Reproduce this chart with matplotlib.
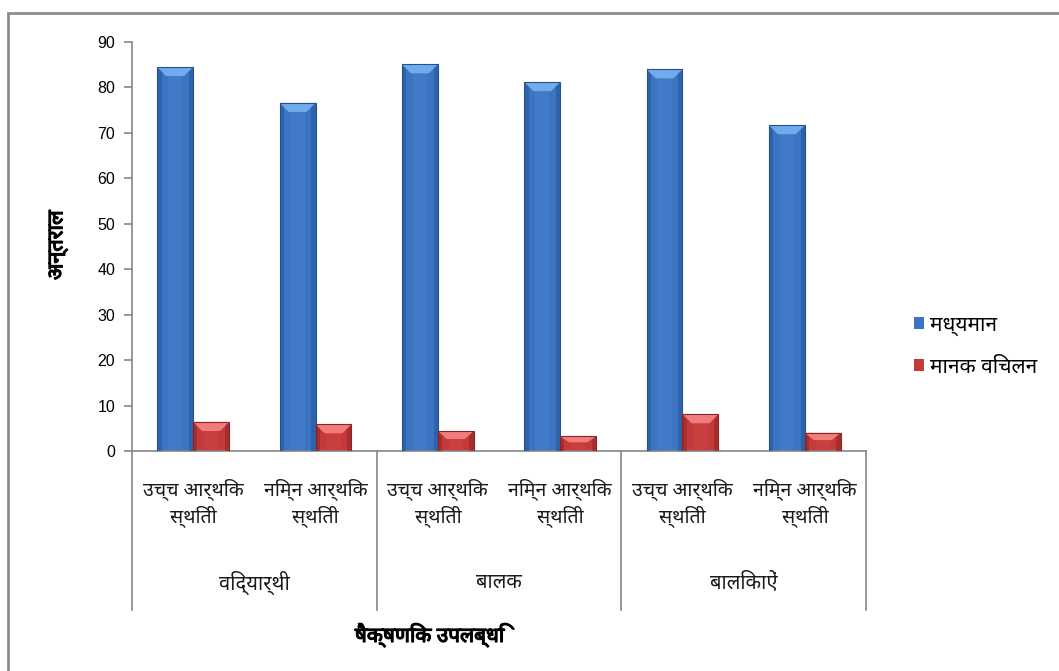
import matplotlib
matplotlib.use('Agg')
import matplotlib.pyplot as plt
import numpy as np
from matplotlib import font_manager as fm
from matplotlib.ft2font import FT2Font
from matplotlib.patches import Rectangle, Polygon
import matplotlib.transforms as mtransforms
import matplotlib.patheffects as pe

# ---------------- data ----------------
categories = ["उच्च आर्थिक\nस्थिती", "निम्न आर्थिक\nस्थिती",
              "उच्च आर्थिक\nस्थिती", "निम्न आर्थिक\nस्थिती",
              "उच्च आर्थिक\nस्थिती", "निम्न आर्थिक\nस्थिती"]
groups = ["विद्यार्थी", "बालक", "बालिकाऐं"]
mean_values = [84.5, 76.6, 85.1, 81.2, 84.0, 71.7]
sd_values = [6.4, 5.9, 4.4, 3.2, 8.1, 4.0]
series_names = ["मध्यमान", "मानक विचलन"]
y_ticks = [0, 10, 20, 30, 40, 50, 60, 70, 80, 90]
y_label = "अन्तराल"
x_label = "षैक्षणिक उपलब्धि"

# ---------------- fonts ----------------
deva_fonts = []
for f in fm.fontManager.ttflist:
    try:
        cmap = FT2Font(f.fname).get_charmap()
        if 0x0915 in cmap and 0x093F in cmap:
            if f.name not in deva_fonts:
                deva_fonts.append(f.name)
    except Exception:
        pass
preferred = ['Noto Sans Devanagari', 'Lohit Devanagari', 'Mangal', 'Hind', 'Mukta',
             'FreeSans', 'Gargi', 'Kalimati']
chosen = [p for p in preferred if p in deva_fonts] + deva_fonts
family = chosen[:1] + ['Liberation Sans', 'DejaVu Sans']
plt.rcParams['font.family'] = family

fig = plt.figure(figsize=(10.59, 6.71), dpi=100)
W, H = 1059, 671
ax = fig.add_axes([132 / W, 1 - 451 / H, (866 - 132) / W, (451 - 42) / H])

x = np.arange(len(categories))
bw = 0.294
blue = '#3B74C2'
red = '#C43A3A'
bars1 = ax.bar(x - bw / 2, mean_values, bw, color=blue, label=series_names[0], zorder=2)
bars2 = ax.bar(x + bw / 2, sd_values, bw, color=red, label=series_names[1], zorder=2)

# bevel shading derived from each bar patch
def shade(bars, dark, light, top_col):
    for p in bars:
        x0, y0 = p.get_x(), p.get_y()
        w, h = p.get_width(), p.get_height()
        ax.add_patch(Rectangle((x0, y0), w * 0.12, h, color=dark, lw=0, zorder=3, alpha=0.5))
        ax.add_patch(Rectangle((x0 + w * 0.88, y0), w * 0.12, h, color=dark, lw=0, zorder=3, alpha=0.5))
        ax.add_patch(Rectangle((x0 + w * 0.3, y0), w * 0.4, h, color=light, lw=0, zorder=3, alpha=0.2))
        bh = min(2.0, h * 0.4)
        ax.add_patch(Polygon([(x0, y0 + h), (x0 + w, y0 + h),
                              (x0 + w * 0.75, y0 + h - bh), (x0 + w * 0.25, y0 + h - bh)],
                             closed=True, color=top_col, lw=0, zorder=4))
        ax.add_patch(Rectangle((x0, y0), w, h, fill=False, ec=dark, lw=0.8, zorder=5))

shade(bars1, '#24518F', '#5A93DC', '#72AAEE')
shade(bars2, '#8A2424', '#E05858', '#F27C7C')

ax.set_xlim(-0.5, len(categories) - 0.5)
ax.set_ylim(0, 90)
ax.set_yticks(y_ticks)
ax.set_yticklabels([str(v) for v in y_ticks], fontsize=11.5, family=['Liberation Sans'])
ax.set_xticks([])
for s in ['top', 'right']:
    ax.spines[s].set_visible(False)
for s in ['left', 'bottom']:
    ax.spines[s].set_color('#868686')
    ax.spines[s].set_linewidth(1.2)
ax.tick_params(axis='y', direction='out', length=6, color='#868686', width=1.2, pad=6)

# category and group labels
trans = mtransforms.blended_transform_factory(ax.transData, fig.transFigure)
for xi, lab in zip(x, categories):
    ax.text(xi, 1 - 503 / H, lab, transform=trans, ha='center', va='center',
            fontsize=14, linespacing=1.3, color='#1a1a1a')
n_per = len(categories) // len(groups)
for gi, g in enumerate(groups):
    cx = gi * n_per + (n_per - 1) / 2
    ax.text(cx, 1 - 583 / H, g, transform=trans, ha='center', va='center',
            fontsize=14.5, color='#1a1a1a')
for b in range(len(groups) + 1):
    bx = b * n_per - 0.5
    ax.plot([bx, bx], [1 - 451 / H, 1 - 610 / H], transform=trans, color='#868686',
            lw=1.2, clip_on=False)

bold_fx = [pe.withStroke(linewidth=0.9, foreground='black')]
fig.text(58 / W, 1 - 245 / H, y_label, rotation=90, ha='center', va='center',
         fontsize=15.5, fontweight='bold', color='black', path_effects=bold_fx)
fig.text(430 / W, 1 - 635 / H, x_label, ha='center', va='center',
         fontsize=15, fontweight='bold', color='black', path_effects=bold_fx)

leg = fig.legend(handles=[bars1, bars2], labels=series_names, loc='center left',
                 bbox_to_anchor=(895 / W, 1 - 346 / H), frameon=False, fontsize=15,
                 handlelength=0.5, handleheight=0.5, handletextpad=0.3, labelspacing=1.0)

# outer chart border (left and top visible)
fig.add_artist(Rectangle((8 / W, -0.05), 1.2, 1.05 - 13 / H, transform=fig.transFigure,
                         fill=False, ec='#8C8C8C', lw=2))

fig.savefig('out.png', dpi=100)
